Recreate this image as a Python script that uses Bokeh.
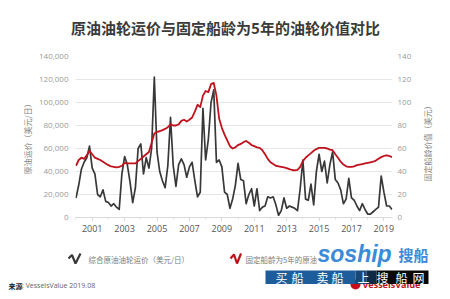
import math
import pandas as pd
from bokeh.plotting import figure
from bokeh.models import Range1d, LinearAxis, FixedTicker, NumeralTickFormatter, Grid, ColumnDataSource
from bokeh.layouts import column, row
from bokeh.embed import file_html
from bokeh.resources import INLINE
from bokeh.core.properties import value

# ---------------- data ----------------
title_text = "原油油轮运价与固定船龄为5年的油轮价值对比"
left_label = "原油运价（美元/日）"
right_label = "固定船龄价值（美元）"
legend_labels = ["综合原油油轮运价（美元/日）", "固定船龄为5年的原油油轮价值（美元）"]
source_label = "来源"
source_text = ": VesselsValue 2019.08"
year_ticks = [2001, 2003, 2005, 2007, 2009, 2011, 2013, 2015, 2017, 2019]
rate_ticks = [0, 20000, 40000, 60000, 80000, 100000, 120000, 140000]
value_ticks = [0, 20, 40, 60, 80, 100, 120, 140]

# composite crude tanker earnings, USD/day, every two months from Jan 2000
tanker_rate = [
    17000, 28000, 42000, 48000, 52000, 62000,
    43000, 38000, 20000, 18000, 24000, 14000,
    13000, 10000, 12000, 9000, 7000, 38000,
    53000, 46000, 31000, 13000, 26000, 60000,
    64000, 38000, 52000, 43000, 60000, 122000,
    57000, 40000, 32000, 26000, 45000, 87000,
    45000, 27000, 46000, 51000, 46000, 35000,
    44000, 48000, 32000, 18000, 22000, 95000,
    50000, 68000, 100000, 111000, 48000, 50000,
    44000, 22000, 20000, 8000, 16000, 28000,
    47000, 33000, 32000, 12000, 20000, 25000,
    10000, 25000, 6000, 9000, 10000, 18000,
    17000, 18000, 11000, 2000, 6000, 17000,
    8000, 10000, 9000, 8000, 6000, 25000,
    50000, 16000, 15000, 29000, 11000, 40000,
    55000, 40000, 49000, 30000, 46000, 57000,
    33000, 30000, 24000, 12000, 16000, 34000,
    17000, 15000, 10000, 6000, 12000, 7000,
    3000, 3000, 5000, 7000, 9000, 36000,
    22000, 10000, 10000, 7000,
]
# 5-year-old tanker value, million USD (right axis)
vessel_value = [
    45, 50, 52, 51, 54, 58,
    55, 52, 51, 50, 48.5, 47,
    45.5, 44.5, 44, 43.5, 44, 45,
    47.5, 47, 47, 47, 47, 49,
    51, 53, 55, 57, 65, 73,
    74.5, 75, 76, 77, 78.5, 81,
    80, 80, 81, 84, 85, 83.5,
    85, 87, 92, 98, 96, 106,
    110, 109, 116, 117, 106, 86,
    78, 72, 67, 62, 60, 61,
    63, 64, 65.5, 66.5, 65, 63,
    62, 61, 60.5, 58.5, 55, 51,
    48, 46.5, 45, 44.5, 44, 43.5,
    43, 42, 41.3, 41, 41.5, 44,
    49, 52, 54, 56, 58, 59.5,
    60.5, 60.5, 60.5, 60, 59, 58.5,
    55, 52, 48.5, 46, 44.5, 44,
    44, 44.5, 45.5, 46, 46.5, 47,
    47.5, 48, 48.5, 49.5, 51, 52.5,
    53.5, 54, 53.5, 52.5,
]

dates = pd.date_range("2000-01-01", periods=len(tanker_rate), freq="2MS")
dec_year = list(dates.year + (dates.month - 1) / 12.0)
src = ColumnDataSource(dict(t=dec_year, rate=tanker_rate, val=vessel_value))

CJK = "Noto Sans CJK SC"
BLACK = "#383838"
RED = "#c0121d"
W = 450
RW = 30  # width of the strip carrying the right-axis title


def no_align(f):
    try:
        f.frame_align = False
    except Exception:
        pass


def blank(w, h, x0=0, y0=0):
    f = figure(width=w, height=h, x_range=Range1d(x0, x0 + w), y_range=Range1d(y0 + h, y0),
               output_backend="svg", toolbar_location=None, min_border=0,
               x_axis_type=None, y_axis_type=None)
    f.grid.visible = False
    f.outline_line_color = None
    f.background_fill_color = "white"
    f.border_fill_color = "white"
    no_align(f)
    return f


# ---------------- header ----------------
head = blank(W, 48)
head.text(x=[225], y=[27], text=[title_text], text_font=value(CJK), text_font_size="15px",
          text_font_style="bold", text_color="#3a3a3a", text_align="center", text_baseline="middle")

# ---------------- main plot ----------------
p = figure(width=W - RW, height=192, x_range=Range1d(1999.97, 2019.53), y_range=Range1d(0, 140000),
           output_backend="svg", toolbar_location=None, x_axis_type=None, y_axis_type=None,
           min_border_left=75, min_border_right=W - RW - 392, min_border_top=8, min_border_bottom=23)
p.outline_line_color = None
p.background_fill_color = "white"
p.border_fill_color = "white"
no_align(p)
p.extra_y_ranges = {"value": Range1d(0, 140)}

xaxis = LinearAxis(ticker=FixedTicker(ticks=year_ticks, minor_ticks=list(range(2000, 2020))))
xaxis.axis_line_color = "#d9d9d9"
xaxis.major_tick_line_color = "#cccccc"
xaxis.minor_tick_line_color = "#dddddd"
xaxis.major_tick_out = 3
xaxis.major_tick_in = 0
xaxis.minor_tick_out = 2
xaxis.minor_tick_in = 0
xaxis.major_label_standoff = 4
xaxis.major_label_text_font = "Open Sans"
xaxis.major_label_text_font_size = "9px"
xaxis.major_label_text_color = "#555555"
p.add_layout(xaxis, "below")

laxis = LinearAxis(ticker=FixedTicker(ticks=rate_ticks), formatter=NumeralTickFormatter(format="0,0"))
laxis.axis_line_color = None
laxis.major_tick_line_color = None
laxis.minor_tick_line_color = None
laxis.major_tick_out = 0
laxis.major_label_standoff = 7
laxis.major_label_text_font = "Open Sans"
laxis.major_label_text_font_size = "8px"
laxis.major_label_text_color = "#9a9a9a"
laxis.axis_label = left_label
laxis.axis_label_text_font = CJK
laxis.axis_label_text_font_size = "8px"
laxis.axis_label_text_font_style = "normal"
laxis.axis_label_text_color = "#888888"
laxis.axis_label_standoff = 3
p.add_layout(laxis, "left")

raxis = LinearAxis(y_range_name="value", ticker=FixedTicker(ticks=value_ticks))
raxis.axis_line_color = None
raxis.major_tick_line_color = None
raxis.minor_tick_line_color = None
raxis.major_tick_out = 0
raxis.major_label_standoff = 5
raxis.major_label_text_font = "Open Sans"
raxis.major_label_text_font_size = "8px"
raxis.major_label_text_color = "#9a9a9a"
p.add_layout(raxis, "right")

grid = Grid(dimension=1, ticker=laxis.ticker)
grid.grid_line_color = "#e6e6e6"
grid.grid_line_width = 1
p.add_layout(grid)

p.line("t", "rate", source=src, line_color=BLACK, line_width=1.7, line_join="round")
p.line("t", "val", source=src, y_range_name="value", line_color=RED, line_width=1.8, line_join="round")

# right-axis title strip (page coordinates)
rstrip = blank(RW, 192, x0=W - RW, y0=48)
rstrip.text(x=[427], y=[141], text=[right_label], angle=math.pi / 2, text_font=value(CJK),
            text_font_size="8px", text_color="#888888", text_align="center", text_baseline="middle")

# ---------------- footer (legend, source, watermark) ----------------
foot = blank(W, 59, y0=240)
foot.line([68, 71.5, 75, 80], [258, 254.5, 263, 253], line_color=BLACK, line_width=2.2)
foot.line([230, 233.5, 236.5, 240.5], [258, 254, 263, 253], line_color=RED, line_width=2.2)
foot.text(x=[88, 245], y=[258.5, 258.5], text=legend_labels, text_font=value(CJK),
          text_font_size="7.5px", text_color="#7a7a7a", text_baseline="middle")
foot.text(x=[8], y=[285], text=[source_label], text_font=value(CJK), text_font_size="7px",
          text_font_style="bold", text_color="#222222", text_baseline="middle")
foot.text(x=[21.5], y=[285], text=[source_text], text_font=value("Open Sans"), text_font_size="7px",
          text_color="#666666", text_baseline="middle")
# VesselsValue logo
foot.scatter(x=[355], y=[284], size=10, marker="circle", fill_color=RED, line_color=None)
foot.text(x=[362], y=[284], text=["VesselsValue"], text_font=value("Open Sans"), text_font_size="9px",
          text_font_style="bold", text_color=RED, text_baseline="middle")
# watermark
foot.quad(left=[316], right=[431], top=[243], bottom=[267], fill_color="white", line_color=None)
foot.text(x=[317], y=[253], text=["soship"], text_font=value("Liberation Sans"), text_font_size="23px",
          text_font_style="bold italic", text_color="#3c8bd8", text_baseline="middle")
foot.text(x=[398], y=[253.5], text=["搜船"], text_font=value(CJK), text_font_size="15px",
          text_font_style="bold", text_color="#3c8bd8", text_baseline="middle")
foot.quad(left=[265, 355, 366, 376], right=[355, 366, 376, 428], top=[270] * 4, bottom=[283.5] * 4,
          fill_color=["#1d5d9b", "#164878", "#0e2a45", "#080808"], line_color=None)
foot.text(x=[281, 297, 322, 337, 363, 382, 401, 418], y=[277] * 8,
          text=["买", "船", "卖", "船", "上", "搜", "船", "网"], text_font=value(CJK),
          text_font_size="12px", text_color="white", text_align="center", text_baseline="middle")

layout = column(head, row(p, rstrip, spacing=0), foot, spacing=0)
open("out.html", "w").write(file_html(layout, INLINE))
